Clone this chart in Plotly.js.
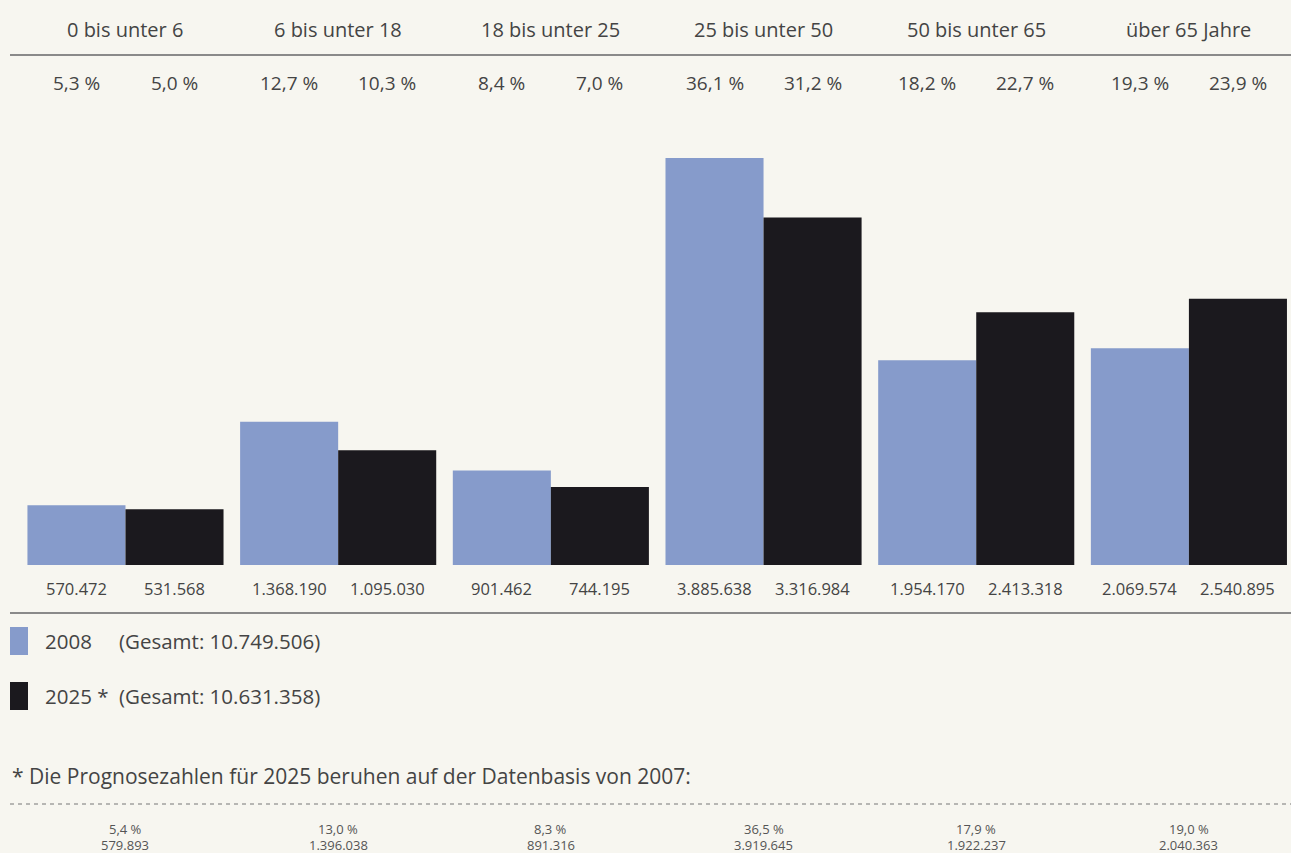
<!DOCTYPE html>
<html><head><meta charset="utf-8">
<script src="https://cdn.plot.ly/plotly-3.0.1.min.js"></script>
<style>html,body{margin:0;padding:0;background:#f7f6f0;}#chart{width:1291px;height:853px;}</style>
</head><body><div id="chart"></div>
<script>
const categories = ["0 bis unter 6","6 bis unter 18","18 bis unter 25","25 bis unter 50","50 bis unter 65","über 65 Jahre"];
const values2008 = [570472, 1368190, 901462, 3885638, 1954170, 2069574];
const values2025 = [531568, 1095030, 744195, 3316984, 2413318, 2540895];
const pct2008 = ["5,3 %","12,7 %","8,4 %","36,1 %","18,2 %","19,3 %"];
const pct2025 = ["5,0 %","10,3 %","7,0 %","31,2 %","22,7 %","23,9 %"];
const label2008 = ["570.472","1.368.190","901.462","3.885.638","1.954.170","2.069.574"];
const label2025 = ["531.568","1.095.030","744.195","3.316.984","2.413.318","2.540.895"];
const basePct2007 = ["5,4 %","13,0 %","8,3 %","36,5 %","17,9 %","19,0 %"];
const baseLabel2007 = ["579.893","1.396.038","891.316","3.919.645","1.922.237","2.040.363"];
const legendNames = ["2008","2025 *"];
const legendTotals = ["(Gesamt: 10.749.506)","(Gesamt: 10.631.358)"];
const footnote = "* Die Prognosezahlen für 2025 beruhen auf der Datenbasis von 2007:";

const W = 1291, H = 853;
const blue = "#869bcb", black = "#1b191e";
const FONT = "Open Sans, Lato, sans-serif";
const txt = "#444";
const idx = categories.map((c,i)=>i);
const py = p => 1 - p / H;
const px = p => p / W;

const traces = [
  {type:"bar", x: idx, y: values2008, name: legendNames[0], marker:{color: blue}, hoverinfo:"y"},
  {type:"bar", x: idx, y: values2025, name: legendNames[1], marker:{color: black}, hoverinfo:"y"}
];

const ann = [];
idx.forEach(i => {
  ann.push({xref:"x", yref:"paper", x:i, y:py(29), text:categories[i], showarrow:false,
    font:{family:FONT, size:20, color:txt}, xanchor:"center", yanchor:"middle"});
  ann.push({xref:"x", yref:"paper", x:i, xshift:-49, y:py(83), text:pct2008[i], showarrow:false,
    font:{family:FONT, size:19, color:txt}, xanchor:"center", yanchor:"middle"});
  ann.push({xref:"x", yref:"paper", x:i, xshift:49, y:py(83), text:pct2025[i], showarrow:false,
    font:{family:FONT, size:19, color:txt}, xanchor:"center", yanchor:"middle"});
  ann.push({xref:"x", yref:"paper", x:i, xshift:-49, y:py(588), text:label2008[i], showarrow:false,
    font:{family:FONT, size:16.5, color:txt}, xanchor:"center", yanchor:"middle"});
  ann.push({xref:"x", yref:"paper", x:i, xshift:49, y:py(588), text:label2025[i], showarrow:false,
    font:{family:FONT, size:16.5, color:txt}, xanchor:"center", yanchor:"middle"});
  ann.push({xref:"x", yref:"paper", x:i, y:py(829), text:basePct2007[i], showarrow:false,
    font:{family:FONT, size:13, color:"#555"}, xanchor:"center", yanchor:"middle"});
  ann.push({xref:"x", yref:"paper", x:i, y:py(845), text:baseLabel2007[i], showarrow:false,
    font:{family:FONT, size:13, color:"#555"}, xanchor:"center", yanchor:"middle"});
});
[641, 696].forEach((yy, k) => {
  ann.push({xref:"paper", yref:"paper", x:px(43), y:py(yy), text:legendNames[k], showarrow:false,
    font:{family:FONT, size:20.5, color:txt}, xanchor:"left", yanchor:"middle"});
  ann.push({xref:"paper", yref:"paper", x:px(117), y:py(yy), text:legendTotals[k], showarrow:false,
    font:{family:FONT, size:20.5, color:txt}, xanchor:"left", yanchor:"middle"});
});
ann.push({xref:"paper", yref:"paper", x:px(10), y:py(776), text:footnote, showarrow:false,
  font:{family:FONT, size:21, color:txt}, xanchor:"left", yanchor:"middle"});

const shapes = [
  {type:"line", xref:"paper", yref:"paper", x0:px(10), x1:1, y0:py(55), y1:py(55), line:{color:"#8a8a8a", width:2}},
  {type:"line", xref:"paper", yref:"paper", x0:px(10), x1:1, y0:py(613), y1:py(613), line:{color:"#8a8a8a", width:2}},
  {type:"line", xref:"paper", yref:"paper", x0:px(10), x1:1, y0:py(804), y1:py(804), line:{color:"#777", width:1, dash:"4px,4px"}},
  {type:"rect", xref:"paper", yref:"paper", x0:px(10), x1:px(28), y0:py(655), y1:py(627), line:{width:0}, fillcolor:blue},
  {type:"rect", xref:"paper", yref:"paper", x0:px(10), x1:px(28), y0:py(710), y1:py(682), line:{width:0}, fillcolor:black}
];

const layout = {
  width:W, height:H,
  margin:{l:0, r:0, t:0, b:0},
  paper_bgcolor:"#f7f6f0", plot_bgcolor:"#f7f6f0",
  barmode:"group", bargap:0.078, bargroupgap:0,
  showlegend:false,
  xaxis:{type:"linear", range:[-0.59, 5.48], showgrid:false, zeroline:false, showticklabels:false, ticks:"", fixedrange:true},
  yaxis:{range:[-2749000, 5394000], showgrid:false, zeroline:false, showticklabels:false, ticks:"", fixedrange:true},
  annotations: ann,
  shapes: shapes
};
Plotly.newPlot("chart", traces, layout, {displayModeBar:false, staticPlot:true});
</script>
</body></html>
